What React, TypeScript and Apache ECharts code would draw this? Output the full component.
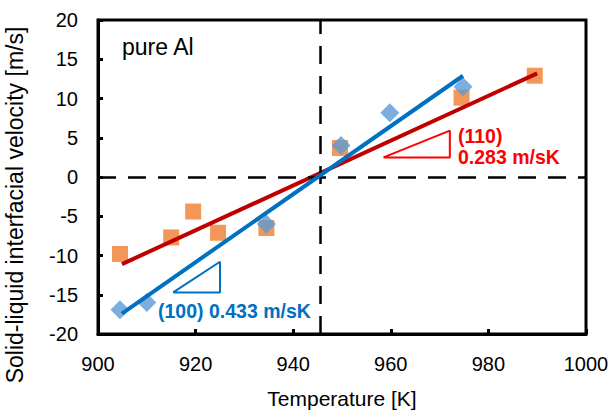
import React, { useEffect, useRef } from "react";
import * as echarts from "echarts";

// (110) interface – orange squares
const temps110 = [904.5, 915, 919.5, 924.6, 934.5, 949.6, 974.5, 989.5];
const vel110 = [-9.8, -7.7, -4.4, -7.1, -6.5, 3.7, 10.1, 12.9];
// (100) interface – blue diamonds
const temps100 = [904.5, 910, 934.5, 949.8, 959.8, 974.8];
const vel100 = [-16.9, -16.0, -6.0, 4.0, 8.2, 11.5];
// linear fits
const fit110T = [904.9, 990];
const fit110V = [-11.1, 13.2];
const fit100T = [904.9, 974.8];
const fit100V = [-17.4, 12.9];
// slope triangles
const tri110T = [958.5, 972.1, 972.1, 958.5];
const tri110V = [2.5, 2.5, 5.9, 2.5];
const tri100T = [915.4, 925.0, 925.0, 915.4];
const tri100V = [-14.7, -14.7, -10.8, -14.7];
// melting point / zero velocity guide lines
const meltingT = 945.5;
const zeroV = 0;

const xMin = 900, xMax = 1000, xStep = 20;
const yMin = -20, yMax = 20, yStep = 5;

const zip = (a: number[], b: number[]) => a.map((v, i) => [v, b[i]]);

const FONT = "'Liberation Sans', Arial, sans-serif";

export default function App() {
  const ref = useRef<HTMLDivElement>(null);
  useEffect(() => {
    if (!ref.current) return;
    const chart = echarts.init(ref.current, null, { renderer: "svg" });
    chart.setOption({
      animation: false,
      backgroundColor: "#fff",
      grid: {
        left: 98, right: 30, top: 20, bottom: 80,
        show: true, borderColor: "#000", borderWidth: 3,
      },
      xAxis: {
        type: "value", min: xMin, max: xMax, interval: xStep,
        axisLine: { show: true, onZero: false, lineStyle: { color: "#000", width: 3 } },
        axisTick: { show: true, inside: true, length: 5, lineStyle: { color: "#000", width: 3 } },
        axisLabel: { color: "#000", fontSize: 20, fontFamily: FONT, margin: 20, formatter: (v: number) => String(v) },
        splitLine: { show: false },
      },
      yAxis: {
        type: "value", min: yMin, max: yMax, interval: yStep,
        axisLine: { show: true, onZero: false, lineStyle: { color: "#000", width: 3 } },
        axisTick: { show: true, inside: true, length: 5, lineStyle: { color: "#000", width: 3 } },
        axisLabel: { color: "#000", fontSize: 20, fontFamily: FONT, margin: 20, formatter: (v: number) => String(v) },
        splitLine: { show: false },
      },
      series: [
        {
          type: "line", data: [], silent: true, z: 1,
          markLine: {
            silent: true, symbol: "none", animation: false,
            label: { show: false },
            lineStyle: { color: "#000", width: 2.5, type: [18, 12] },
            data: [{ xAxis: meltingT }, { yAxis: zeroV }],
          },
        },
        {
          name: "(110)", type: "scatter", symbol: "rect", symbolSize: 16, z: 2,
          itemStyle: { color: "#ed7d31" },
          data: zip(temps110, vel110),
        },
        {
          name: "(100)", type: "scatter", symbol: "diamond", symbolSize: 19, z: 3,
          itemStyle: { color: "#5b9bd5" },
          data: zip(temps100, vel100),
        },
        {
          type: "line", showSymbol: false, z: 4,
          lineStyle: { color: "#c00000", width: 4 },
          data: zip(fit110T, fit110V),
        },
        {
          type: "line", showSymbol: false, z: 5,
          lineStyle: { color: "#0070c0", width: 4 },
          data: zip(fit100T, fit100V),
        },
        {
          type: "line", showSymbol: false, z: 6,
          lineStyle: { color: "#ff0000", width: 2 },
          data: zip(tri110T, tri110V),
        },
        {
          type: "line", showSymbol: false, z: 6,
          lineStyle: { color: "#0070c0", width: 2 },
          data: zip(tri100T, tri100V),
        },
      ],
      graphic: [
        {
          type: "text", x: 122, y: 47, z: 10,
          style: { text: "pure Al", fontSize: 23, fontFamily: FONT, fill: "#000", verticalAlign: "middle" },
        },
        {
          type: "text", x: 458, y: 136, z: 10,
          style: { text: "(110)", fontSize: 19.5, fontWeight: "bold", fontFamily: FONT, fill: "#ff0000", verticalAlign: "middle" },
        },
        {
          type: "text", x: 458, y: 157, z: 10,
          style: { text: "0.283 m/sK", fontSize: 19.5, fontWeight: "bold", fontFamily: FONT, fill: "#ff0000", verticalAlign: "middle" },
        },
        {
          type: "text", x: 158, y: 311, z: 10,
          style: { text: "(100) 0.433 m/sK", fontSize: 19.5, fontWeight: "bold", fontFamily: FONT, fill: "#0070c0", verticalAlign: "middle" },
        },
        {
          type: "text", x: 342, y: 398, z: 10,
          style: { text: "Temperature [K]", fontSize: 21, fontFamily: FONT, fill: "#000", align: "center", verticalAlign: "middle" },
        },
        {
          type: "text", x: 15, y: 205, rotation: Math.PI / 2, z: 10,
          style: { text: "Solid-liquid interfacial velocity [m/s]", fontSize: 23, fontFamily: FONT, fill: "#000", align: "center", verticalAlign: "middle" },
        },
      ],
    });
    return () => chart.dispose();
  }, []);
  return <div ref={ref} style={{ width: 616, height: 414, position: "absolute", left: 0, top: 0 }} />;
}
